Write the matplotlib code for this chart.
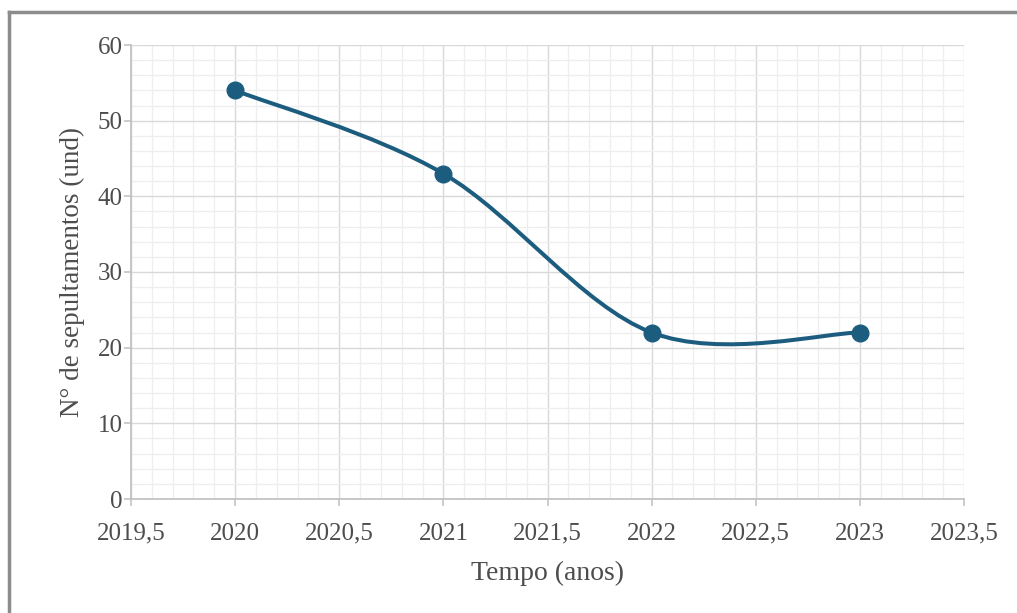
import matplotlib.pyplot as plt
import numpy as np
from matplotlib.path import Path
from matplotlib.patches import PathPatch
from matplotlib.lines import Line2D
from matplotlib.ticker import MultipleLocator, FuncFormatter

# data
anos = [2020, 2021, 2022, 2023]
sepultamentos = [54, 43, 22, 22]

plt.rcParams['font.family'] = ['Liberation Serif', 'DejaVu Serif']

lineColour = '#1c5d7f'
textColour = '#4d4d4d'

fig = plt.figure(figsize=(10.17, 6.13), dpi=100)
ax = fig.add_axes([131 / 1017, 1 - 499 / 613, (964 - 131) / 1017, (499 - 45) / 613])

# Excel-like smoothed line: cubic bezier segments from the data points
xs = np.array(anos, dtype=float)
ys = np.array(sepultamentos, dtype=float)
verts = [(xs[0], ys[0])]
codes = [Path.MOVETO]
n = len(xs)
for i in range(n - 1):
    p0 = np.array([xs[max(i - 1, 0)], ys[max(i - 1, 0)]])
    p1 = np.array([xs[i], ys[i]])
    p2 = np.array([xs[i + 1], ys[i + 1]])
    p3 = np.array([xs[min(i + 2, n - 1)], ys[min(i + 2, n - 1)]])
    c1 = p1 + (p2 - p0) / 6
    c2 = p2 - (p3 - p1) / 6
    verts += [tuple(c1), tuple(c2), tuple(p2)]
    codes += [Path.CURVE4] * 3
ax.add_patch(PathPatch(Path(verts, codes), facecolor='none', edgecolor=lineColour,
                       linewidth=2.9, capstyle='round', zorder=3))
ax.plot(anos, sepultamentos, linestyle='none', marker='o', markersize=12,
        color=lineColour, zorder=4)

ax.set_xlim(2019.5, 2023.5)
ax.set_ylim(0, 60)
ax.xaxis.set_major_locator(MultipleLocator(0.5))
ax.xaxis.set_minor_locator(MultipleLocator(0.1))
ax.yaxis.set_major_locator(MultipleLocator(10))
ax.yaxis.set_minor_locator(MultipleLocator(2))
ax.xaxis.set_major_formatter(FuncFormatter(lambda v, p: ('%g' % v).replace('.', ',')))

ax.grid(which='major', color='#d9d9d9', linewidth=1.0)
ax.grid(which='minor', color='#eeeeee', linewidth=0.9)
ax.set_axisbelow(True)

for side in ['top', 'right']:
    ax.spines[side].set_visible(False)
for side in ['bottom', 'left']:
    ax.spines[side].set_color('#bfbfbf')
    ax.spines[side].set_linewidth(1.2)

ax.tick_params(which='major', length=5, width=1.1, color='#bfbfbf',
               labelsize=18, labelcolor=textColour)
ax.tick_params(axis='x', which='major', pad=12)
ax.tick_params(axis='y', which='major', pad=1)
ax.tick_params(which='minor', length=0)

ax.set_xlabel('Tempo (anos)', fontsize=20, color=textColour, labelpad=12)
ax.set_ylabel('N° de sepultamentos (und)', fontsize=19.5, color=textColour, labelpad=9)

# grey frame along the top and left of the picture
fig.add_artist(Line2D([9 / 1017, 9 / 1017], [0, 1 - 12 / 613], transform=fig.transFigure,
                      color='#8c8c8c', linewidth=2.5))
fig.add_artist(Line2D([9 / 1017, 1], [1 - 12 / 613, 1 - 12 / 613], transform=fig.transFigure,
                      color='#8c8c8c', linewidth=2.5))

fig.savefig('out.png', dpi=100)
